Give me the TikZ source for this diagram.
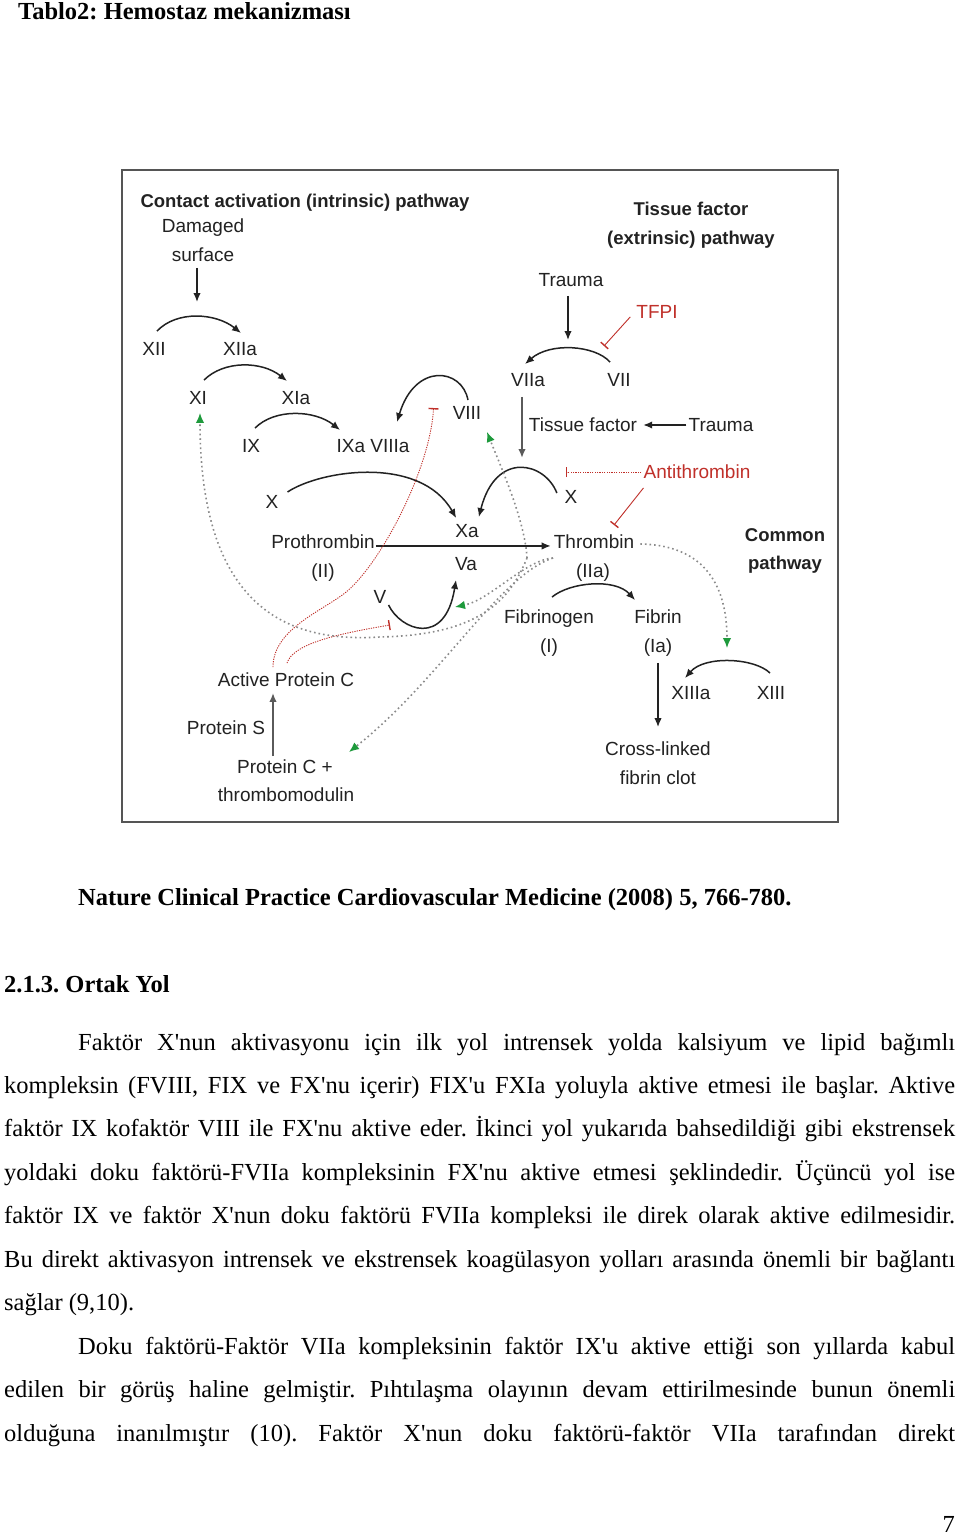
\documentclass[tikz,border=0pt]{standalone}
\usepackage{fontspec}
\setmainfont{Liberation Serif}
\newfontfamily\diagfont{Liberation Sans}
\usetikzlibrary{arrows.meta,calc}
\frenchspacing
\newcommand\apo{\textquotesingle}
\definecolor{inhred}{HTML}{C0302A}
\definecolor{fbgreen}{HTML}{1E9A3C}
\definecolor{dotgray}{HTML}{8A8A8A}
\definecolor{framegray}{HTML}{555555}
\definecolor{inkblack}{HTML}{222222}
\definecolor{inkgray}{HTML}{5A5A5A}
\begin{document}
\begin{tikzpicture}[x=1pt,y=1pt,
  lbl/.style={font=\diagfont\fontsize{19}{22}\selectfont, inner sep=0pt, text height=13.5pt, text depth=0pt, text=inkblack},
  hdr/.style={font=\diagfont\bfseries\fontsize{18.5}{22}\selectfont, inner sep=0pt, text height=13.5pt, text depth=0pt, text=inkblack},
  redlbl/.style={lbl, text=inhred},
  act/.style={draw=inkblack, line width=1.5pt, -{Latex[length=9pt,width=7.5pt]}},
  actg/.style={draw=inkgray, line width=2.2pt, -{Latex[length=9pt,width=7.5pt]}},
  inh/.style={draw=inhred, line width=0.9pt, -{Bar[width=10pt,line width=1.4pt]}},
  inhdot/.style={draw=inhred, line width=0.9pt, dash pattern=on 1.2pt off 1.2pt, -{Bar[width=10pt,line width=1.4pt]}},
  fb/.style={draw=dotgray, line width=1.6pt, dash pattern=on 1.6pt off 3pt, -{Latex[length=10pt,width=8.5pt,fbgreen]}},
  body/.style={font=\fontsize{24.5}{30}\selectfont, inner sep=0pt, anchor=base west},
  bodyb/.style={font=\bfseries\fontsize{24.5}{30}\selectfont, inner sep=0pt, anchor=base west}
]
\fill[white] (0,0) rectangle (960,-1536);
\useasboundingbox (0,0) rectangle (960,-1536);

% ---------- page text ----------
\node[bodyb] (title) at (18,-20) {Tablo2: Hemostaz mekanizması};
\node[bodyb] (cite) at (78,-905) {Nature Clinical Practice Cardiovascular Medicine (2008) 5, 766-780.};
\node[bodyb] (head) at (4,-992) {2.1.3. Ortak Yol};

\node[body] (l1) at (78,-1050) {\makebox[877pt][s]{Faktör X\apo nun aktivasyonu için ilk yol intrensek yolda kalsiyum ve lipid bağımlı}};
\node[body] (l2) at (4,-1093.4) {\makebox[951pt][s]{kompleksin (FVIII, FIX ve FX\apo nu içerir) FIX\apo u FXIa yoluyla aktive etmesi ile başlar. Aktive}};
\node[body] (l3) at (4,-1136.9) {\makebox[951pt][s]{faktör IX kofaktör VIII ile FX\apo nu aktive eder. İkinci yol yukarıda bahsedildiği gibi ekstrensek}};
\node[body] (l4) at (4,-1180.3) {\makebox[951pt][s]{yoldaki doku faktörü-FVIIa kompleksinin FX\apo nu aktive etmesi şeklindedir. Üçüncü yol ise}};
\node[body] (l5) at (4,-1223.8) {\makebox[951pt][s]{faktör IX ve faktör X\apo nun doku faktörü FVIIa kompleksi ile direk olarak aktive edilmesidir.}};
\node[body] (l6) at (4,-1267.2) {\makebox[951pt][s]{Bu direkt aktivasyon intrensek ve ekstrensek koagülasyon yolları arasında önemli bir bağlantı}};
\node[body] (l7) at (4,-1310.7) {sağlar (9,10).};
\node[body] (l8) at (78,-1354.1) {\makebox[877pt][s]{Doku faktörü-Faktör VIIa kompleksinin faktör IX\apo u aktive ettiği son yıllarda kabul}};
\node[body] (l9) at (4,-1397.6) {\makebox[951pt][s]{edilen bir görüş haline gelmiştir. Pıhtılaşma olayının devam ettirilmesinde bunun önemli}};
\node[body] (l10) at (4,-1441) {\makebox[951pt][s]{olduğuna inanılmıştır (10). Faktör X\apo nun doku faktörü-faktör VIIa tarafından direkt}};
\node[body, anchor=base east] (pno) at (955,-1532) {7};

% ---------- diagram frame ----------
\draw[framegray, line width=1.5pt] (122,-170) rectangle (838,-822);

% ---------- diagram labels ----------
\node[hdr] (cap) at (305,-201) {Contact activation (intrinsic) pathway};
\node[hdr] (tf1) at (691,-209) {Tissue factor};
\node[hdr] (tf2) at (691,-238) {(extrinsic) pathway};
\node[hdr] (cp1) at (785,-535) {Common};
\node[hdr] (cp2) at (785,-563) {pathway};

\node[lbl] (dam1) at (203,-226) {Damaged};
\node[lbl] (dam2) at (203,-255) {surface};
\node[lbl] (XII) at (154,-349) {XII};
\node[lbl] (XIIa) at (240,-349) {XIIa};
\node[lbl] (XI) at (198,-398) {XI};
\node[lbl] (XIa) at (296,-398) {XIa};
\node[lbl] (IX) at (251,-446) {IX};
\node[lbl] (IXaVIIIa) at (373,-446) {IXa VIIIa};
\node[lbl] (VIII) at (467,-413) {VIII};
\node[lbl] (trauma1) at (571,-280) {Trauma};
\node[redlbl] (TFPI) at (657,-312) {TFPI};
\node[lbl] (VIIa) at (528,-380) {VIIa};
\node[lbl] (VII) at (619,-380) {VII};
\node[lbl] (tissuefactor) at (583,-425) {Tissue factor};
\node[lbl] (trauma2) at (721,-425) {Trauma};
\node[redlbl] (antithrombin) at (697,-472) {Antithrombin};
\node[lbl] (Xr) at (571,-497) {X};
\node[lbl] (Xl) at (272,-502) {X};
\node[lbl] (Xa) at (467,-531) {Xa};
\node[lbl] (Va) at (466,-564) {Va};
\node[lbl] (prothrombin) at (323,-542) {Prothrombin};
\node[lbl] (II) at (323,-571) {(II)};
\node[lbl] (thrombin) at (594,-542) {Thrombin};
\node[lbl] (IIa) at (593,-571) {(IIa)};
\node[lbl] (V) at (380,-597) {V};
\node[lbl] (fibrinogen) at (549,-617) {Fibrinogen};
\node[lbl] (I) at (549,-646) {(I)};
\node[lbl] (fibrin) at (658,-617) {Fibrin};
\node[lbl] (Ia) at (658,-646) {(Ia)};
\node[lbl] (XIIIa) at (691,-693) {XIIIa};
\node[lbl] (XIII) at (771,-693) {XIII};
\node[lbl] (cl1) at (658,-749) {Cross-linked};
\node[lbl] (cl2) at (658,-778) {fibrin clot};
\node[lbl] (apc) at (286,-680) {Active Protein C};
\node[lbl] (ps) at (226,-728) {Protein S};
\node[lbl] (pc1) at (285,-767) {Protein C +};
\node[lbl] (pc2) at (286,-795) {thrombomodulin};

% ---------- free ends ----------
\coordinate (dsend) at (197,-302);
\coordinate (tr1end) at (568,-340);
\coordinate (tfend) at (522,-458);
\coordinate (tfpiend) at (604,-346);
\coordinate (atend) at (566,-472);
\coordinate (apcmid) at (345,-593);
\coordinate (vinh) at (390,-625);
\coordinate (src1) at (527,-558);
\coordinate (src2) at (553,-558);
\coordinate (fbmid) at (380,-637);
\coordinate (vfb) at (455,-607);
\coordinate (xiiifb) at (727,-648);

% ---------- activation arcs ----------
\draw[act] ([shift={(3pt,11pt)}]XII.north) .. controls +(20pt,21pt) and +(-25pt,20pt) .. ([shift={(1pt,9pt)}]XIIa.north);
\draw[act] ([shift={(6pt,11pt)}]XI.north) .. controls +(20pt,20pt) and +(-25pt,20pt) .. ([shift={(-9pt,10pt)}]XIa.north);
\draw[act] ([shift={(4pt,11pt)}]IX.north) .. controls +(20pt,20pt) and +(-25pt,20pt) .. ([shift={(-33pt,9pt)}]IXaVIIIa.north);
\draw[act] ([shift={(9pt,10pt)}]Xl.east) .. controls +(33pt,22pt) and +(-36pt,63pt) .. ([shift={(1pt,6pt)}]Xa.north west);
\draw[act] ([shift={(1pt,6pt)}]VIII.north) .. controls +(-6pt,32pt) and +(18pt,60pt) .. ([shift={(24pt,17pt)}]IXaVIIIa.north);
\draw[act] ([shift={(-7.6pt,4pt)}]Xr.west) .. controls +(-12pt,31pt) and +(17pt,67pt) .. ([shift={(0pt,7pt)}]Xa.north east);
\draw[act] ([shift={(-9pt,11pt)}]VII.north) .. controls +(-15pt,17pt) and +(25pt,22pt) .. ([shift={(-3pt,9pt)}]VIIa.north);
\draw[act] ([shift={(2pt,-8pt)}]V.east) .. controls +(12pt,-25pt) and +(-11pt,-68pt) .. ([shift={(-10pt,-9pt)}]Va.south);
\draw[act] ([shift={(3pt,13pt)}]fibrinogen.north) .. controls +(18pt,15pt) and +(-20pt,22pt) .. ([shift={(1pt,10pt)}]fibrin.north west);
\draw[act] ([shift={(-1pt,13pt)}]XIII.north) .. controls +(-15pt,15pt) and +(20pt,23pt) .. ([shift={(-6pt,8pt)}]XIIIa.north);

% ---------- straight arrows ----------
\draw[act] ([shift={(-6pt,-6pt)}]dam2.south) -- (dsend);
\draw[act] ([shift={(-3pt,-9pt)}]trauma1.south) -- (tr1end);
\draw[actg] ([shift={(-6pt,-10pt)}]VIIa.south) -- (tfend);
\draw[act] ([xshift=-2pt]trauma2.west) -- ([xshift=6pt]tissuefactor.east);
\draw[act] ([shift={(1pt,3pt)}]prothrombin.south east) -- ([shift={(-3pt,3pt)}]thrombin.south west);
\draw[act] ([yshift=-10pt]Ia.south) -- ([yshift=15pt]cl1.north);
\draw[actg] ([shift={(-12pt,4pt)}]pc1.north) -- ([shift={(-13pt,-6pt)}]apc.south);

% ---------- inhibitors ----------
\draw[inh] ([shift={(-6pt,2pt)}]TFPI.south west) -- (tfpiend);
\draw[inhdot] ([xshift=-2pt]antithrombin.west) -- (atend);
\draw[inh] ([shift={(0pt,-9pt)}]antithrombin.south west) -- ([shift={(20pt,10pt)}]thrombin.north);
\draw[inhdot] ([shift={(-13pt,6pt)}]apc.north) .. controls (273,-630) and (320,-612) .. (apcmid) .. controls (380,-565) and (430,-470) .. ([shift={(-19pt,5pt)}]VIII.west);
\draw[inhdot] ([shift={(1pt,10pt)}]apc.north) .. controls (293,-645) and (330,-635) .. (vinh);

% ---------- thrombin feedback ----------
\draw[fb] (src1) .. controls (525,-520) and (500,-465) .. ([shift={(20pt,-12pt)}]VIII.south);
\draw[fb] (src1) .. controls (510,-600) and (480,-635) .. (fbmid) .. controls (300,-642) and (200,-620) .. ([shift={(2pt,-8pt)}]XI.south);
\draw[fb] (src2) .. controls (525,-560) and (490,-600) .. (vfb);
\draw[fb] (src2) .. controls (500,-575) and (440,-680) .. ([shift={(16pt,8pt)}]pc1.north east);
\draw[fb] ([shift={(6pt,-2pt)}]thrombin.east) .. controls (700,-545) and (727,-580) .. (xiiifb);
\end{tikzpicture}
\end{document}
